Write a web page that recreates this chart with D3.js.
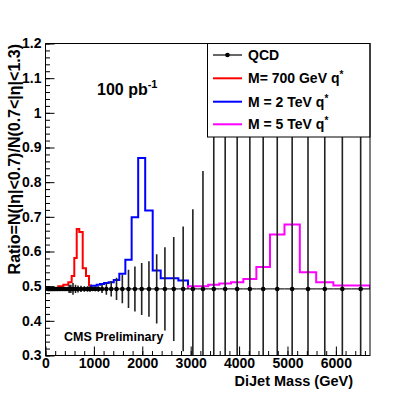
<!DOCTYPE html>
<html><head><meta charset="utf-8">
<script src="https://cdn.jsdelivr.net/npm/d3@7"></script>
<style>
body{margin:0;background:#fff}
text{font-family:"Liberation Sans",Arial,Helvetica,sans-serif;font-weight:bold;fill:#000}
</style>
</head><body>
<svg id="c" width="415" height="399"></svg>
<script>
// ---- data ----
const binEdges = [40,55,71,88,106,125,145,166,188,211,237,264,298,333,368,403,437,471,506,541,595,645,698,769,837,899,940,999,1058,1126,1210,1305,1410,1525,1650,1780,1915,2060,2215,2380,2555,2745,2944,3145,3362,3592,3833,4088,4357,4639,4938,5255,5593,5948,6319,6705];
const qcdRatio = [0.492,0.492,0.492,0.492,0.492,0.492,0.492,0.492,0.492,0.492,0.492,0.492,0.492,0.492,0.492,0.492,0.492,0.492,0.492,0.492,0.492,0.492,0.492,0.492,0.492,0.492,0.492,0.492,0.492,0.492,0.492,0.492,0.492,0.492,0.492,0.492,0.492,0.492,0.492,0.492,0.492,0.492,0.492,0.492,0.492,0.492,0.492,0.492,0.492,0.492,0.492,0.492,0.492,0.492,0.492];
const qcdError = [0.002,0.002,0.002,0.002,0.002,0.002,0.002,0.002,0.002,0.002,0.002,0.004,0.004,0.004,0.004,0.004,0.004,0.012,0.012,0.017,0.012,0.010,0.009,0.008,0.008,0.008,0.006,0.007,0.008,0.012,0.017,0.022,0.032,0.041,0.055,0.065,0.075,0.080,0.100,0.120,0.150,0.180,0.230,0.340,0.450,0.600,0.800,1.000,1.200,1.400,1.600,1.800,2.000,2.200,2.400];
const N = null;
const qstar700 = [N,N,N,N,N,N,N,N,N,N,N,0.500,0.500,0.500,0.504,0.504,0.504,0.511,0.511,0.529,0.581,0.665,0.656,0.552,0.529,0.502,N,N,N,N,N,N,N,N,N,N,N,N,N,N,N,N,N,N,N,N,N,N,N,N,N,N,N,N,N];
const qstar2000 = [N,N,N,N,N,N,N,N,N,N,N,N,N,N,N,N,N,N,N,N,N,N,N,N,N,N,0.501,0.501,0.504,0.506,0.509,0.511,0.518,0.536,0.576,0.699,0.870,0.718,0.545,0.523,0.523,0.516,N,N,N,N,N,N,N,N,N,N,N,N,N];
const qstar5000 = [N,N,N,N,N,N,N,N,N,N,N,N,N,N,N,N,N,N,N,N,N,N,N,N,N,N,N,N,N,N,N,N,N,N,N,N,N,N,N,N,N,N,0.500,0.500,0.504,0.508,0.511,0.521,0.555,0.649,0.678,0.540,0.511,0.502,0.502];
const xTicks = [0,1000,2000,3000,4000,5000,6000];
const yTicks = [0.3,0.4,0.5,0.6,0.7,0.8,0.9,1.0,1.1,1.2];
const legendLabels = ["QCD","M= 700 GeV q","M = 2 TeV q","M = 5 TeV q"];
const seriesColors = ["#000000","#ff0000","#0000ff","#ff00ff"];

// ---- layout ----
const L = 45.5, R = 370, T = 43.5, B = 355.5;
const svg = d3.select("#c");
const x = d3.scaleLinear().domain([0, 6705]).range([L, R]);
const y = d3.scaleLinear().domain([0.3, 1.2]).range([B, T]);

svg.append("defs").append("clipPath").attr("id","clip")
  .append("rect").attr("x",L).attr("y",T).attr("width",R-L).attr("height",B-T);
const plot = svg.append("g").attr("clip-path","url(#clip)");

// histograms
function histPath(vals){
  let first = vals.findIndex(v=>v!==null);
  let last = vals.length-1 - [...vals].reverse().findIndex(v=>v!==null);
  const pts = [[binEdges[first], qcdRatio[first]]];
  for(let i=first;i<=last;i++){
    pts.push([binEdges[i], vals[i]]);
    pts.push([binEdges[i+1], vals[i]]);
  }
  pts.push([binEdges[last+1], qcdRatio[Math.min(last+1, qcdRatio.length-1)]]);
  return d3.line().x(d=>x(d[0])).y(d=>y(d[1]))(pts);
}
[[qstar700,seriesColors[1]],[qstar2000,seriesColors[2]],[qstar5000,seriesColors[3]]].forEach(([v,c])=>{
  plot.append("path").attr("d",histPath(v)).attr("fill","none")
    .attr("stroke",c).attr("stroke-width",2);
});

// QCD points with errors
const centers = qcdRatio.map((v,i)=>(binEdges[i]+binEdges[i+1])/2);
plot.append("g").selectAll("line.xe").data(qcdRatio).join("line")
  .attr("x1",(d,i)=>x(binEdges[i])).attr("x2",(d,i)=>x(binEdges[i+1]))
  .attr("y1",d=>y(d)).attr("y2",d=>y(d)).attr("stroke","#222").attr("stroke-width",1.2);
plot.append("g").selectAll("line.ye").data(qcdRatio).join("line")
  .attr("x1",(d,i)=>x(centers[i])).attr("x2",(d,i)=>x(centers[i]))
  .attr("y1",(d,i)=>y(d+qcdError[i])).attr("y2",(d,i)=>y(d-qcdError[i]))
  .attr("stroke","#222").attr("stroke-width",1.6);
plot.append("g").selectAll("circle").data(qcdRatio).join("circle")
  .attr("cx",(d,i)=>x(centers[i])).attr("cy",d=>y(d)).attr("r",2.3).attr("fill","#000");

// axes
const fmtY = v => String(+v.toFixed(1));
const xMinor = d3.range(0, 6701, 200);
const yMinor = d3.range(0.3, 1.2001, 0.02);
const gx = svg.append("g").attr("transform",`translate(0,${B})`);
gx.call(d3.axisBottom(x).tickValues(xMinor).tickSize(-4.5).tickFormat(""));
gx.call(g=>g.select(".domain").remove());
const gx2 = svg.append("g").attr("transform",`translate(0,${B})`);
gx2.call(d3.axisBottom(x).tickValues(xTicks).tickSize(-9).tickPadding(3).tickFormat(d3.format("d")));
gx2.select(".domain").remove();
gx2.selectAll("text").attr("font-size",14).attr("font-family",null).attr("font-weight",null);

const gy = svg.append("g").attr("transform",`translate(${L},0)`);
gy.call(d3.axisLeft(y).tickValues(yMinor).tickSize(-4.5).tickFormat(""));
gy.select(".domain").remove();
const gy2 = svg.append("g").attr("transform",`translate(${L},0)`);
gy2.call(d3.axisLeft(y).tickValues(yTicks).tickSize(-9).tickPadding(4).tickFormat(fmtY));
gy2.select(".domain").remove();
gy2.selectAll("text").attr("font-size",14).attr("font-family",null).attr("font-weight",null);
svg.selectAll(".tick line").attr("stroke","#000");

// legend
const lg = svg.append("g");
lg.append("rect").attr("x",207.5).attr("y",T).attr("width",R-207.5).attr("height",93.5)
  .attr("fill","#fff").attr("stroke","#000").attr("stroke-width",1);
const rowY = [55,78.3,101.7,124.3];
legendLabels.forEach((lab,i)=>{
  lg.append("line").attr("x1",213).attr("x2",242).attr("y1",rowY[i]).attr("y2",rowY[i])
    .attr("stroke",seriesColors[i]).attr("stroke-width", i===0?1.2:2);
  if(i===0) lg.append("circle").attr("cx",227.5).attr("cy",rowY[i]).attr("r",2.3).attr("fill","#000");
  const t = lg.append("text").attr("x",248).attr("y",rowY[i]+5).attr("font-size",14).text(lab);
  if(i>0) t.append("tspan").attr("font-size",10).attr("dy",-5).text("*");
});

// frame
svg.append("rect").attr("x",L).attr("y",T).attr("width",R-L).attr("height",B-T)
  .attr("fill","none").attr("stroke","#000").attr("stroke-width",1);

// texts
const t1 = svg.append("text").attr("x",97).attr("y",95).attr("font-size",16).text("100 pb");
t1.append("tspan").attr("font-size",11).attr("dy",-7).text("-1");
svg.append("text").attr("x",64).attr("y",341).attr("font-size",12.5).text("CMS Preliminary");
svg.append("text").attr("x",353).attr("y",386).attr("text-anchor","end").attr("font-size",14.5).text("DiJet Mass (GeV)");
svg.append("text").attr("transform","translate(20,44) rotate(-90)").attr("text-anchor","end")
  .attr("font-size",16).text("Ratio=N(|η|<0.7)/N(0.7<|η|<1.3)");
</script>
</body></html>
